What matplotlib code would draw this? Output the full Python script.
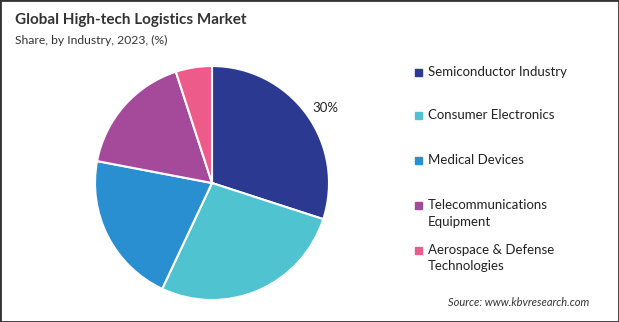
import matplotlib.pyplot as plt
from matplotlib.patches import Rectangle

plt.rcParams['font.family'] = ['Lato', 'DejaVu Sans']

industries = ["Semiconductor Industry", "Consumer Electronics", "Medical Devices",
              "Telecommunications\nEquipment", "Aerospace & Defense\nTechnologies"]
shares = [30, 27, 21, 17, 5]
colors = ["#2B3990", "#4FC3CF", "#2A8FD0", "#A5499B", "#EC5B8A"]

fig = plt.figure(figsize=(6.19, 3.22), dpi=100)
W, H = 619, 322

# pie area: center ~ (212, 183), radius ~117 px
ax = fig.add_axes([(212 - 117) / W, 1 - (183 + 117) / H, 234 / W, 234 / H])
wedges, _ = ax.pie(shares, colors=colors, startangle=90, counterclock=False,
                   wedgeprops=dict(edgecolor="white", linewidth=1.5))
ax.set_aspect("equal")
ax.set_xlim(-1, 1); ax.set_ylim(-1, 1)
ax.axis("off")

# only the largest slice is labelled
fig.text(325 / W, 1 - 108 / H, f"{shares[0]}%", fontsize=9.5, ha="center", va="center",
         color="#222222")

fig.text(15 / W, 1 - 20 / H, "Global High-tech Logistics Market", fontsize=11,
         fontweight="bold", color="#333333", ha="left", va="center")
fig.text(15 / W, 1 - 40 / H, "Share, by Industry, 2023, (%)", fontsize=8.7,
         color="#333333", ha="left", va="center")

# legend: marker aligned with first line of each entry
leg_y = [72, 115, 160, 205, 250]
for name, c, y in zip(industries, colors, leg_y):
    fig.patches.append(Rectangle((415 / W, 1 - (y + 3.5) / H), 7 / W, 7 / H,
                                 transform=fig.transFigure, color=c))
    fig.text(428 / W, 1 - (y - 6) / H, name, fontsize=9.5, color="#222222",
             ha="left", va="top", linespacing=1.45)

fig.text(589 / W, 1 - 303 / H, "Source: www.kbvresearch.com", fontsize=8,
         style="italic", color="#333333", ha="right", va="center")

# outer frame
fig.patches.append(Rectangle((0, 0), 1, 1, transform=fig.transFigure, fill=False,
                             edgecolor="#333333", linewidth=2))

fig.savefig("out.png", dpi=100)
